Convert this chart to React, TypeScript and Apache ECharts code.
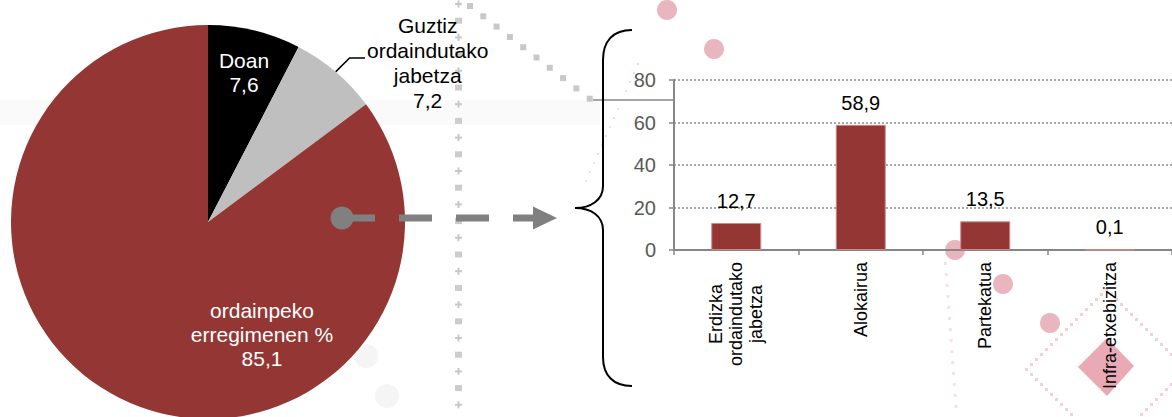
import React, { useEffect, useRef } from "react";
import * as echarts from "echarts";

const FONT = "Liberation Sans, Arial, sans-serif";

// Pie data
const pieNames = ["Doan", "Guztiz ordaindutako jabetza", "ordainpeko erregimenen %"];
const pieLabelLines = [["Doan"], ["Guztiz", "ordaindutako", "jabetza"], ["ordainpeko", "erregimenen %"]];
const pieValues = [7.6, 7.2, 85.1];
const pieColors = ["#000000", "#bfbfbf", "#943634"];

// Bar data
const barCategories = ["Erdizka\nordaindutako\njabetza", "Alokairua", "Partekatua", "Infra-etxebizitza"];
const barValues = [12.7, 58.9, 13.5, 0.1];
const yTickMin = 0;
const yTickMax = 80;
const yTickStep = 20;

const fmt = (v: number) => v.toFixed(1).replace(".", ",");

const BRACE =
  "M 632 30 C 613 30 603 41 603 60 L 603 186 C 603 200 591 208 575 208 C 591 208 603 216 603 230 L 603 357 C 603 375 613 386 632 386";

const PIE_CX = 208;
const PIE_CY = 222;
const PIE_R = 197;

export default function App() {
  const ref = useRef<HTMLDivElement>(null);

  useEffect(() => {
    document.body.style.margin = "0";
    if (!ref.current) return;
    try {
      echarts.graphic.registerShape("brace", echarts.graphic.extendPath(BRACE, {}) as any);
    } catch (e) {}
    const chart = echarts.init(ref.current, undefined, { renderer: "svg" });

    // decorative background elements
    const deco: any[] = [];
    deco.push({ type: "rect", shape: { x: 0, y: 100, width: 600, height: 25 }, style: { fill: "#fafafa" }, z: -10 });
    deco.push({ type: "circle", shape: { cx: 366, cy: 356, r: 12 }, style: { fill: "#f5f5f5" }, z: -10 });
    deco.push({ type: "circle", shape: { cx: 387, cy: 396, r: 12 }, style: { fill: "#f5f5f5" }, z: -10 });
    for (let i = 0; i < 26; i++) {
      const y = 4 + i * 16.7;
      if (i % 2 === 0) {
        deco.push({ type: "rect", shape: { x: 455, y: y - 1, width: 7, height: 2 }, style: { fill: "#c8c8c8" }, z: -5 });
        deco.push({ type: "rect", shape: { x: 457.5, y: y - 3.5, width: 2, height: 7 }, style: { fill: "#c8c8c8" }, z: -5 });
      } else {
        deco.push({ type: "rect", shape: { x: 455, y: y - 3, width: 7, height: 6 }, style: { fill: "#cccccc" }, z: -5 });
      }
    }
    for (let i = 0; i < 10; i++) {
      const x = 470 + i * 13.3;
      const y = 6 + i * 10.3;
      deco.push({ type: "rect", shape: { x: x - 3, y: y - 3, width: 6, height: 6 }, style: { fill: "#c8c8c8" }, z: -5 });
    }
    for (let i = 0; i < 14; i++) {
      deco.push({ type: "rect", shape: { x: 585 + i * 4, y: 180 - i * 9, width: 2, height: 2 }, style: { fill: "#f5dde2" }, z: -6 });
      deco.push({ type: "rect", shape: { x: 944 + i * 0.8, y: 262 + i * 11, width: 3, height: 3 }, style: { fill: "#f5e2e5" }, z: -6 });
    }
    const dCx = 1105, dCy = 368, dR = 80;
    for (let i = 0; i < 16; i++) {
      const t = i / 16;
      const pts = [
        [dCx - dR + t * dR, dCy - t * dR],
        [dCx + t * dR, dCy - dR + t * dR],
        [dCx + dR - t * dR, dCy + t * dR],
        [dCx - t * dR, dCy + dR - t * dR],
      ];
      pts.forEach((p) =>
        deco.push({ type: "rect", shape: { x: p[0], y: p[1], width: 3, height: 3 }, style: { fill: "#f2d0d7" }, z: -6 })
      );
    }
    [
      [667, 10],
      [714, 49],
      [955, 250],
      [1003, 284],
      [1050, 323],
    ].forEach((c) =>
      deco.push({ type: "circle", shape: { cx: c[0], cy: c[1], r: 10 }, style: { fill: "#e9b6c0" }, z: -4 })
    );
    deco.push({
      type: "polygon",
      shape: { points: [[1078, 367], [1107, 338], [1134, 366], [1107, 396]] },
      style: { fill: "#eaaab5" },
      z: -4,
    });
    deco.push({ type: "line", shape: { x1: 593, y1: 100, x2: 674, y2: 100 }, style: { stroke: "#a6a6a6", lineWidth: 2 }, z: -3 });

    const brace = {
      type: "brace",
      x: 0,
      y: 0,
      style: { stroke: "#000", lineWidth: 2, fill: null },
      z: 20,
    };
    const arrow = [
      { type: "line", shape: { x1: 342, y1: 218, x2: 540, y2: 218 }, style: { stroke: "#808080", lineWidth: 7, lineDash: [33, 24] }, z: 20 },
      { type: "circle", shape: { cx: 342, cy: 218, r: 11.5 }, style: { fill: "#808080" }, z: 21 },
      { type: "polygon", shape: { points: [[533, 206.5], [557, 218], [533, 229.5]] }, style: { fill: "#808080" }, z: 21 },
    ];

    const richLines = (lines: string[]) => lines.map((s) => `{c|${s}}`).join("\n");

    const total = pieValues.reduce((a, b) => a + b, 0);
    const midAngle = ((pieValues[0] + pieValues[1] / 2) / total) * Math.PI * 2;
    const edge = [PIE_CX + PIE_R * Math.sin(midAngle), PIE_CY - PIE_R * Math.cos(midAngle)];

    const pieData = pieValues.map((v, i) => {
      const inside = i !== 1;
      const col = inside ? "#ffffff" : "#000000";
      return {
        name: pieNames[i],
        value: v,
        itemStyle: { color: pieColors[i] },
        label: {
          show: true,
          position: inside ? "inside" : "outside",
          formatter: richLines([...pieLabelLines[i], fmt(v)]),
          rich: { c: { align: "center", color: col, fontSize: 21, lineHeight: inside ? 24 : 25, fontFamily: FONT } },
          color: col,
          distanceToLabelLine: 0,
        },
        labelLine: {
          show: !inside,
          length: 19,
          length2: 12,
          smooth: false,
          lineStyle: { color: "#000", width: 1.5 },
        },
      };
    });

    const option: any = {
      animation: false,
      backgroundColor: "#ffffff",
      textStyle: { fontFamily: FONT },
      grid: { left: 674, top: 80, width: 504, height: 170, containLabel: false },
      xAxis: {
        type: "category",
        data: barCategories,
        boundaryGap: true,
        axisLine: { show: true, lineStyle: { color: "#868686", width: 2 } },
        axisTick: { show: true, length: 5, lineStyle: { color: "#868686", width: 1.5 } },
        axisLabel: {
          interval: 0,
          rotate: 90,
          margin: 12,
          formatter: (v: string) => richLines(v.split("\n")),
          rich: { c: { align: "center", fontSize: 18, lineHeight: 20, color: "#000", fontFamily: FONT } },
        },
        splitLine: { show: false },
      },
      yAxis: {
        type: "value",
        min: yTickMin,
        max: yTickMax,
        interval: yTickStep,
        axisLine: { show: true, lineStyle: { color: "#868686", width: 2 } },
        axisTick: { show: true, length: 5, lineStyle: { color: "#868686", width: 1.5 } },
        axisLabel: { color: "#595959", fontSize: 20, margin: 18, fontFamily: FONT },
        splitLine: { show: true, lineStyle: { type: [2, 2], color: "#8c8c8c", width: 1.5 } },
      },
      series: [
        {
          type: "pie",
          center: [PIE_CX, PIE_CY],
          radius: PIE_R,
          startAngle: 90,
          clockwise: true,
          avoidLabelOverlap: false,
          silent: true,
          data: pieData,
          labelLayout: (p: any) => {
            if (p.dataIndex === 0) return { x: 244, y: 72, align: "center", verticalAlign: "middle" };
            if (p.dataIndex === 2) return { x: 262, y: 334, align: "center", verticalAlign: "middle" };
            if (p.dataIndex === 1)
              return {
                x: 367,
                y: 63,
                align: "left",
                verticalAlign: "middle",
                labelLinePoints: [edge, [edge[0] + 14, 58], [365, 58]],
              };
            return {};
          },
          z: 5,
        },
        {
          type: "bar",
          data: barValues,
          barWidth: 50,
          itemStyle: { color: "#943634", borderColor: "#c98a8a", borderWidth: 1 },
          label: {
            show: true,
            position: "top",
            distance: 12,
            color: "#000",
            fontSize: 20,
            fontFamily: FONT,
            formatter: (p: any) => fmt(p.value),
          },
          z: 5,
        },
      ],
      graphic: { elements: [...deco, brace, ...arrow] },
    };
    chart.setOption(option);
    return () => chart.dispose();
  }, []);

  return <div ref={ref} style={{ width: 1172, height: 417 }} />;
}
